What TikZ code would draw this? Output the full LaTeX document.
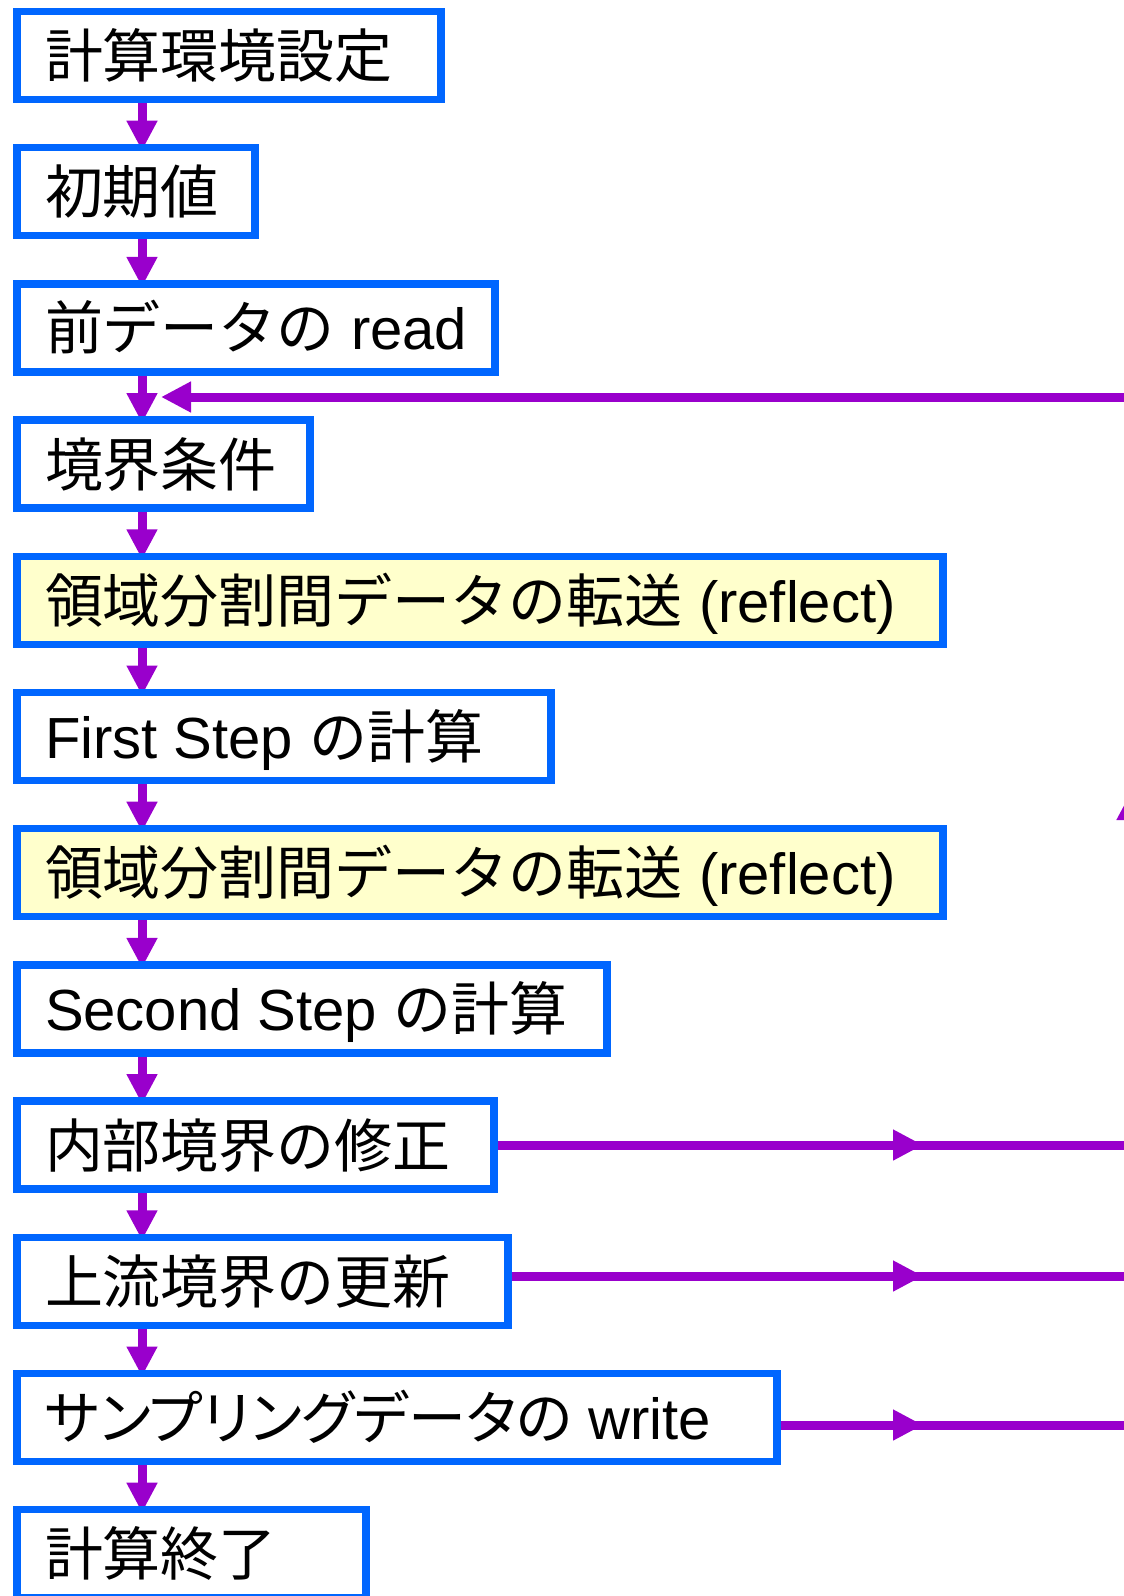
\documentclass[tikz,border=0pt]{standalone}
\usepackage{fontspec}
\setmainfont{Liberation Sans}
\newfontfamily\jp{Noto Sans CJK JP}
\newfontfamily\jpp[RawFeature=+palt]{Noto Sans CJK JP}
\usetikzlibrary{arrows.meta}
\definecolor{bblue}{RGB}{0,102,255}
\definecolor{fpurple}{RGB}{153,0,204}
\definecolor{fyellow}{RGB}{255,255,204}
\pgfdeclarelayer{bg}
\pgfsetlayers{bg,main}
\newcommand\lbox[2]{\makebox[#1][l]{#2}}
\begin{document}
\begin{tikzpicture}[x=1pt,y=-1pt,
  box/.style={draw=bblue, line width=7.5pt, fill=white, anchor=north west,
    minimum height=88pt, inner xsep=28pt, inner ysep=0pt, outer sep=0pt,
    font=\fontsize{58}{60}\selectfont, text height=51pt, text depth=7pt},
  ybox/.style={box, fill=fyellow},
  flow/.style={draw=fpurple, line width=9pt, -{Triangle[length=30pt,width=29pt]}},
  plainline/.style={draw=fpurple, line width=9pt}
]
\useasboundingbox (0,0) rectangle (1124,1596);
\clip (0,0) rectangle (1124,1596);

\node[box]  (b1)  at (17,11.5)   {\lbox{368pt}{\jp 計算環境設定}};
\node[box]  (b2)  at (17,147.7)  {\lbox{182pt}{\jp 初期値}};
\node[box]  (b3)  at (17,283.9)  {\lbox{422pt}{{\jp 前データの} read}};
\node[box]  (b4)  at (17,420.1)  {\lbox{237pt}{\jp 境界条件}};
\node[ybox] (b5)  at (17,556.3)  {\lbox{870pt}{{\jp 領域分割間データの転送} (reflect)}};
\node[box]  (b6)  at (17,692.5)  {\lbox{478pt}{First Step {\jp の計算}}};
\node[ybox] (b7)  at (17,828.7)  {\lbox{870pt}{{\jp 領域分割間データの転送} (reflect)}};
\node[box]  (b8)  at (17,964.9)  {\lbox{534pt}{Second Step {\jp の計算}}};
\node[box]  (b9)  at (17,1101.1) {\lbox{421pt}{\jp 内部境界の修正}};
\node[box]  (b10) at (17,1237.3) {\lbox{435pt}{\jp 上流境界の更新}};
\node[box]  (b11) at (17,1373.5) {\lbox{704pt}{{\jpp サンプリングデータの} write}};
\node[box]  (b12) at (17,1509.7) {\lbox{293pt}{\jp 計算終了}};

\coordinate (ax) at (142,0);
\coordinate (r9)  at (1132,1145);
\coordinate (r10) at (1132,1276);
\coordinate (r11) at (1132,1425);
\coordinate (rt)  at (1132,397);
\coordinate (ent) at (161,397);
\coordinate (m9a)  at (870,1145);  \coordinate (m9b)  at (923,1145);
\coordinate (m10a) at (870,1276);  \coordinate (m10b) at (923,1276);
\coordinate (m11a) at (870,1425);  \coordinate (m11b) at (923,1425);
\coordinate (mva)  at (1132,850);  \coordinate (mvb)  at (1132,790);

\begin{pgfonlayer}{bg}
\clip (0,0) rectangle (1124,1596);
\foreach \a/\b in {b1/b2,b2/b3,b3/b4,b4/b5,b5/b6,b6/b7,b7/b8,b8/b9,b9/b10,b10/b11,b11/b12}
  \draw[flow, shorten >=-3pt] (\a.south -| ax) -- (\b.north -| ax);
\draw[plainline] (b9.east |- r9) -- (r9);
\draw[plainline] (b10.east |- r10) -- (r10);
\draw[plainline] (b11.east |- r11) -- (r11);
\draw[plainline] (r11) -- (rt);
\draw[flow] (rt) -- (ent);
\draw[flow] (m9a) -- (m9b);
\draw[flow] (m10a) -- (m10b);
\draw[flow] (m11a) -- (m11b);
\draw[flow] (mva) -- (mvb);
\end{pgfonlayer}
\end{tikzpicture}
\end{document}
